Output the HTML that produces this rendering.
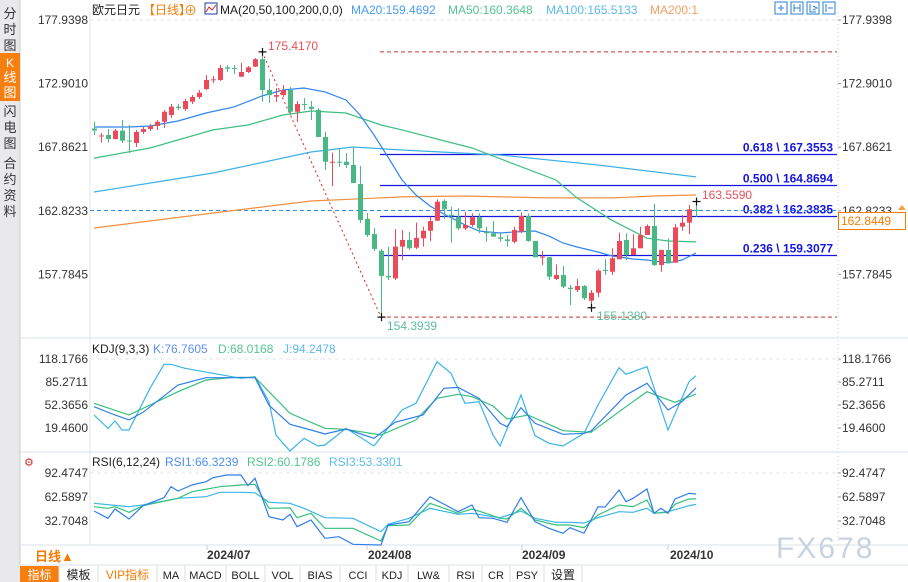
<!DOCTYPE html>
<html><head><meta charset="utf-8">
<style>
html,body{margin:0;padding:0;background:#fff;}
body{width:908px;height:582px;overflow:hidden;position:relative;font-family:"Liberation Sans","Noto Sans CJK SC",sans-serif;}
svg{position:absolute;left:0;top:0;}
text{font-family:"Liberation Sans","Noto Sans CJK SC",sans-serif;}
</style></head>
<body>
<svg id="c" width="908" height="582" viewBox="0 0 908 582">
  <g>
    <rect x="0" y="0" width="20" height="582" fill="#e9e9ec"/>
    <line x1="20" y1="0" x2="20" y2="565" stroke="#ccc"/>
    <g><text x="10" y="18" font-size="13" text-anchor="middle" fill="#333">分</text><text x="10" y="34" font-size="13" text-anchor="middle" fill="#333">时</text><text x="10" y="50" font-size="13" text-anchor="middle" fill="#333">图</text></g>
    <g><rect x="0" y="53" width="20" height="48" fill="#f77f10"/><text x="10" y="67" font-size="12" text-anchor="middle" fill="#fff">K</text><text x="10" y="82" font-size="13" text-anchor="middle" fill="#fff">线</text><text x="10" y="97" font-size="13" text-anchor="middle" fill="#fff">图</text></g>
    <g><text x="10" y="116" font-size="13" text-anchor="middle" fill="#333">闪</text><text x="10" y="132" font-size="13" text-anchor="middle" fill="#333">电</text><text x="10" y="148" font-size="13" text-anchor="middle" fill="#333">图</text></g>
    <g><text x="10" y="168" font-size="13" text-anchor="middle" fill="#333">合</text><text x="10" y="184" font-size="13" text-anchor="middle" fill="#333">约</text><text x="10" y="200" font-size="13" text-anchor="middle" fill="#333">资</text><text x="10" y="216" font-size="13" text-anchor="middle" fill="#333">料</text></g>
  </g>
  <line x1="90" y1="12" x2="90" y2="545" stroke="#e4e4e4"/>
  <line x1="838" y1="12" x2="838" y2="545" stroke="#ccc" stroke-dasharray="1,3"/>
  <line x1="20" y1="338" x2="908" y2="338" stroke="#dde3ea"/>
  <line x1="20" y1="452" x2="908" y2="452" stroke="#dde3ea"/>
  <line x1="20" y1="545" x2="908" y2="545" stroke="#dde3ea"/>
  <line x1="20" y1="565" x2="908" y2="565" stroke="#dde3ea"/>
  <line x1="90" y1="20" x2="838" y2="20" stroke="#e6e6e6" stroke-dasharray="4,3"/>
  <line x1="90" y1="359" x2="838" y2="359" stroke="#e6e6e6" stroke-dasharray="4,3"/>
  <line x1="90" y1="473" x2="838" y2="473" stroke="#e6e6e6" stroke-dasharray="4,3"/>

  <g font-size="12">
    <text x="92" y="14" fill="#222">欧元日元</text>
    <text x="143" y="14" fill="#f57c00">【日线】</text>
    <text x="184" y="15" fill="#f57c00" font-size="13">⊕</text>
    <rect x="205" y="3" width="12" height="11" fill="#fff" stroke="#1a3f9a"/>
    <polyline points="206,12 209,7 212,10 216,5" fill="none" stroke="#d22" stroke-width="1"/>
    <text x="220" y="14" fill="#222">MA(20,50,100,200,0,0)</text>
    <text x="351" y="14" fill="#4a9df5">MA20:159.4692</text>
    <text x="448" y="14" fill="#54c48f">MA50:160.3648</text>
    <text x="546" y="14" fill="#5bbbe8">MA100:165.5133</text>
    <text x="650" y="14" fill="#f5a060">MA200:1</text>
  </g>
  <g fill="none" stroke="#2a7fd0">
    <rect x="775" y="2" width="12" height="12"/><rect x="791" y="2" width="12" height="12"/><rect x="807" y="2" width="12" height="12"/><rect x="823" y="2" width="12" height="12"/>
    <path d="M778 8h6M781 5v6M794 4v8M800 4v8M794 8h6M810 4v8h6M813 6l4 2-4 2M826 4v8M828 8h5"/>
  </g>

  <g id="axes" font-size="12" fill="#333"></g>
  <g id="fib"></g>
  <g id="ma"></g>
  <g id="candles"></g>
  <g id="kdj"></g>
  <g id="rsi"></g>

  <g font-size="12">
    <text x="268" y="50" fill="#e8505b">175.4170</text>
    <text x="387" y="330" fill="#5dbd9a">154.3939</text>
    <text x="597" y="320" fill="#5dbd9a">155.1380</text>
    <text x="702" y="199" fill="#e8505b">163.5590</text>
  </g>

  <g font-size="12">
    <text x="92" y="353" fill="#222">KDJ(9,3,3)</text>
    <text x="153" y="353" fill="#5d8ff0">K:76.7605</text>
    <text x="218" y="353" fill="#54c48f">D:68.0168</text>
    <text x="283" y="353" fill="#5bbbe8">J:94.2478</text>
  </g>
  <g font-size="12">
    <text x="24" y="466" fill="#c33" font-size="11">⚙</text>
    <text x="92" y="466" fill="#222">RSI(6,12,24)</text>
    <text x="165" y="466" fill="#4a8ff0">RSI1:66.3239</text>
    <text x="247" y="466" fill="#54c48f">RSI2:60.1786</text>
    <text x="329" y="466" fill="#5bbbe8">RSI3:53.3301</text>
  </g>

  <g font-size="12" font-weight="bold" fill="#333">
    <line x1="207" y1="545" x2="207" y2="550" stroke="#ccc"/><text x="207" y="559">2024/07</text>
    <line x1="367" y1="545" x2="367" y2="550" stroke="#ccc"/><text x="368" y="559">2024/08</text>
    <line x1="522" y1="545" x2="522" y2="550" stroke="#ccc"/><text x="522" y="559">2024/09</text>
    <line x1="668" y1="545" x2="668" y2="550" stroke="#ccc"/><text x="670" y="559">2024/10</text>
  </g>
  <text x="35" y="561" font-size="13" font-weight="bold" fill="#f57c00">日线▲</text>
  <text x="776" y="558" font-size="30" fill="#c9d3e0" letter-spacing="2">FX678</text>

  <g font-size="12">
    <rect x="20" y="566" width="39" height="16" fill="#f77f10"/>
    <text x="39.5" y="579" text-anchor="middle" fill="#fff">指标</text>
    <g stroke="#ddd"><line x1="59" y1="566" x2="59" y2="582"/><line x1="98" y1="566" x2="98" y2="582"/><line x1="157" y1="566" x2="157" y2="582"/><line x1="185" y1="566" x2="185" y2="582"/><line x1="226" y1="566" x2="226" y2="582"/><line x1="265" y1="566" x2="265" y2="582"/><line x1="300" y1="566" x2="300" y2="582"/><line x1="340" y1="566" x2="340" y2="582"/><line x1="376" y1="566" x2="376" y2="582"/><line x1="408" y1="566" x2="408" y2="582"/><line x1="449" y1="566" x2="449" y2="582"/><line x1="482" y1="566" x2="482" y2="582"/><line x1="510" y1="566" x2="510" y2="582"/><line x1="544" y1="566" x2="544" y2="582"/><line x1="582" y1="566" x2="582" y2="582"/></g>
    <text x="78.5" y="579" text-anchor="middle" fill="#222">模板</text>
    <text x="127.5" y="579" text-anchor="middle" fill="#f57c00">VIP指标</text>
    <g font-family="Liberation Mono" font-size="11" fill="#222">
    <text x="171" y="579" text-anchor="middle">MA</text>
    <text x="205.5" y="579" text-anchor="middle">MACD</text>
    <text x="245.5" y="579" text-anchor="middle">BOLL</text>
    <text x="282.5" y="579" text-anchor="middle">VOL</text>
    <text x="320" y="579" text-anchor="middle">BIAS</text>
    <text x="358" y="579" text-anchor="middle">CCI</text>
    <text x="392" y="579" text-anchor="middle">KDJ</text>
    <text x="428.5" y="579" text-anchor="middle">LW&amp;</text>
    <text x="465.5" y="579" text-anchor="middle">RSI</text>
    <text x="496" y="579" text-anchor="middle">CR</text>
    <text x="527" y="579" text-anchor="middle">PSY</text>
    </g>
    <text x="563" y="579" text-anchor="middle" fill="#222">设置</text>
  </g>

  <g>
    <rect x="838.5" y="212.5" width="67" height="17" fill="#fff" stroke="#f57c00"/>
    <text x="841" y="225" font-size="12" fill="#f57c00">162.8449</text>
    <path d="M898 210l4-5 4 5z" fill="#f5a040"/>
  </g>
</svg>
<script>
const opens  = [169.34,168.71,168.83,168.51,169.17,168.39,168.19,169.07,169.30,169.54,169.88,170.41,171.07,170.89,171.47,171.84,172.47,173.19,173.19,174.19,174.14,173.45,173.82,174.24,174.83,172.39,171.86,171.99,172.39,170.67,171.28,171.07,170.81,168.67,166.63,166.71,166.71,166.45,164.94,162.17,160.98,159.66,157.66,157.47,159.98,160.51,159.90,160.64,161.24,162.04,163.60,162.51,162.35,161.43,161.70,162.31,161.17,161.04,160.72,160.56,160.37,161.17,162.41,160.43,159.14,159.14,157.42,157.73,156.73,156.54,156.86,155.70,156.33,158.13,157.99,158.98,160.51,159.32,159.85,160.90,161.62,158.53,159.72,158.71,161.56,161.88,162.90];
const highs  = [169.90,168.99,169.30,169.30,170.02,169.62,169.22,169.46,169.70,170.02,170.81,171.28,171.28,171.68,172.00,172.39,173.58,173.50,174.37,174.37,174.37,174.53,174.29,174.93,175.417,173.26,172.55,172.79,172.63,171.52,171.76,171.52,170.97,169.09,167.43,167.80,167.40,167.88,166.37,162.65,161.46,159.79,159.95,161.38,161.30,161.16,161.88,161.56,162.35,163.73,163.73,163.15,163.02,162.75,162.62,162.62,161.56,162.01,161.04,160.90,161.56,162.70,162.62,160.43,159.64,159.16,158.58,158.45,156.94,157.42,156.94,156.54,158.19,158.98,159.85,161.09,161.04,160.96,161.56,161.75,163.36,159.72,160.64,161.77,162.49,163.28,163.559];
const lows   = [168.83,168.22,168.22,168.47,168.19,167.40,167.88,168.91,169.14,169.22,169.38,170.18,170.81,170.73,171.28,171.68,172.39,172.95,173.11,173.82,173.66,173.42,173.74,174.22,171.47,171.36,171.44,171.84,170.41,169.86,170.81,170.02,168.67,166.05,164.79,166.29,166.21,165.02,161.85,160.74,159.64,154.3939,157.34,157.34,158.92,159.72,159.79,159.98,160.43,162.01,162.17,160.29,161.30,161.30,161.56,161.04,160.37,160.77,160.37,159.98,160.24,161.06,160.37,159.14,158.53,157.34,157.34,156.68,155.35,156.39,155.75,155.138,155.97,157.73,157.73,158.98,158.92,159.32,159.85,160.90,158.45,157.99,158.66,158.71,161.24,160.98,162.35];
const closes = [169.18,168.79,168.51,169.17,168.38,168.35,169.07,169.30,169.54,169.88,170.67,171.07,170.97,171.52,171.84,172.18,173.19,173.24,174.14,174.08,174.06,173.82,174.19,174.83,172.39,171.99,171.99,172.39,170.67,171.28,171.20,170.89,168.67,166.71,166.71,166.66,166.45,165.02,162.09,160.90,159.80,157.66,157.55,159.98,160.51,159.85,160.67,161.24,162.01,163.54,162.94,162.41,161.43,161.70,162.31,161.43,161.04,160.77,160.61,160.43,161.30,162.41,160.43,159.14,159.19,157.60,157.73,156.81,156.62,156.86,155.89,156.33,158.08,158.05,159.06,160.43,159.32,159.85,160.90,161.62,158.53,159.72,158.66,161.51,161.88,162.94,162.8449];
const ma20Idx  = [0,5,8,12,16,20,24,27,30,33,36,38,40,42,44,46,48,50,53,55,58,60,63,65,67,69,72,74,77,79,82,84,86];
const ma20Val  = [169.46,169.46,169.54,169.94,170.57,171.05,171.92,172.39,172.55,172.24,171.60,170.41,168.83,167.08,165.26,164.07,163.20,162.57,161.70,161.22,161.06,161.14,161.22,160.82,160.27,159.95,159.56,159.24,159.00,158.92,158.69,158.92,159.47];
const ma50Idx  = [0,8,17,22,27,31,36,41,44,54,66,69,74,79,82,86];
const ma50Val  = [167.00,167.80,169.23,169.62,170.41,170.73,170.57,169.62,169.23,167.80,165.26,163.84,162.07,160.65,160.43,160.36];
const ma100Idx = [0,17,31,37,44,58,72,86];
const ma100Val = [164.31,165.82,167.48,167.88,167.64,167.24,166.45,165.51];
const ma200Idx = [0,17,31,44,53,65,74,80,86];
const ma200Val = [161.46,162.65,163.60,163.92,163.99,163.84,163.84,163.99,164.07];
const fibRatios = ["0.618","0.500","0.382","0.236"];
const fibLevels = [167.3553,164.8694,162.3835,159.3077];
const swingHigh = 175.4170, swingLow = 154.3939, swingHighIdx = 24, swingLowIdx = 41;
const lastPrice = 162.8449;
const priceTicks = [177.9398,172.9010,167.8621,162.8233,157.7845];
const kIdx = [0,3,5,7,12,16,23,25,28,31,33,36,40,43,47,50,52,55,58,59,61,63,67,70,71,76,79,82,84,86];
const kVal = [50,38,31,41.9,81,91.4,91.4,52,24.7,16.6,10.9,18,4.7,27.6,38,76.2,77.6,62,26.2,21.3,48.5,26.2,10.5,11.9,15.2,66.7,83.4,45.2,57.1,76.76];
const dIdx = [0,5,12,16,20,23,28,33,36,41,46,49,52,54,57,59,62,67,71,76,79,83,86];
const dVal = [54.8,38.1,71.4,88.1,92,92,40.5,19,17.6,9.5,31,62,67.7,64.2,51,32.4,38,15.6,13.3,50,71.4,56.2,68.02];
const jIdx = [0,2,3,4,5,8,10,11,13,17,21,23,25,26,27,28,30,32,33,36,40,44,46,49,51,53,55,57,58,61,63,65,67,70,72,75,76,79,82,85,86];
const jVal = [38,19,29.5,16.6,16.6,76.2,110.6,110.6,104.9,97.7,90.6,92.9,57.1,9.5,-2.4,-13.4,4.7,-6.3,-4.8,19,-6.3,45.2,54.8,114.3,97.7,54.8,57.1,9.5,-6.3,66.7,8.5,-2.4,-6.3,11.9,52.4,105.7,96.3,107.2,16.6,85.7,94.25];
const kdjTicks = [118.1766,85.2711,52.3656,19.4600];
const r1Idx = [0,2,3,5,7,10,11,12,14,16,17,19,21,22,23,25,27,28,29,31,33,35,37,41,42,45,48,52,54,55,57,59,61,63,65,67,68,70,72,73,75,76,77,79,80,81,82,83,85,86];
const r1Val = [45.2,36.1,47.6,35.2,51.8,61.7,75.4,70.1,77.5,81.6,86.6,90,90,76.7,85.9,38.1,34,41.1,25.6,34,11.2,13.2,3.7,2.8,27.7,31.8,63,44.3,52.6,36.8,36.1,31.1,61.7,31.8,23.6,17.4,24.4,17.4,50.5,50,71.3,56.7,61,72.5,42.3,48.5,42.3,60.1,67.2,66.32];
const r2Idx = [0,2,3,5,7,12,14,18,21,23,25,28,29,31,33,37,41,42,45,48,52,54,56,58,59,61,63,66,68,70,72,75,77,79,80,82,83,85,86];
const r2Val = [50.5,48.5,50.5,43.5,51.8,61,69.2,75.4,77.5,78.4,48.5,49,36.8,42.3,23.6,23.6,7.8,26.9,27.7,54.7,42.3,47.6,42.3,36.1,35.2,48.5,34,27.7,27.7,24.4,40.2,52.6,50.5,58.9,42.3,43.5,53.5,60.1,60.18];
const r3Idx = [0,5,7,12,16,18,21,23,25,28,30,33,37,41,42,45,48,52,54,58,61,63,66,68,70,72,75,77,79,80,82,85,86];
const r3Val = [54.7,50.5,52.6,61,63,68.4,68.4,67.8,56,54.7,48.5,36.8,36.1,19.4,28.6,36.1,48.5,41.1,42.3,36.8,45.2,36.1,31.1,31.1,30.2,36.8,44.3,43.5,48.5,42.3,44.3,51.8,53.33];
const rsiTicks = [92.4747,62.5897,32.7048];

const NS = "http://www.w3.org/2000/svg";
function mk(tag, attrs, parent){ const e=document.createElementNS(NS,tag); for(const k in attrs) e.setAttribute(k,attrs[k]); parent.appendChild(e); return e; }
const xOf = i => 94 + 7*i;
const yP = p => 20 + (177.9398 - p) * 12.62;
const yK = v => 359 + (118.1766 - v) * 23/32.9055;
const yR = v => 473 + (92.4747 - v) * 24/29.8849;

const axes = document.getElementById('axes');
function axisLabel(v, y){
  let t = mk('text',{x:842,y:y+4,'font-size':12,fill:'#333'},axes); t.textContent=v.toFixed(4);
   
  let t2 = mk('text',{x:88,y:y+4,'font-size':12,fill:'#333','text-anchor':'end'},axes); t2.textContent=v.toFixed(4);
   
  mk('line',{x1:838,y1:y,x2:841,y2:y,stroke:'#999'},axes);
}
priceTicks.forEach(v=>axisLabel(v,yP(v)));
kdjTicks.forEach(v=>axisLabel(v,yK(v)));
rsiTicks.forEach(v=>axisLabel(v,yR(v)));

const fib = document.getElementById('fib');
const fx0 = xOf(swingLowIdx)-1;
let l;
l = mk('line',{x1:fx0,y1:yP(swingHigh),x2:837,y2:yP(swingHigh),stroke:'#c0392b','stroke-dasharray':'4,3'},fib);
 
l = mk('line',{x1:fx0,y1:yP(swingLow),x2:837,y2:yP(swingLow),stroke:'#c0392b','stroke-dasharray':'4,3'},fib);
 
l = mk('line',{x1:xOf(swingHighIdx),y1:yP(swingHigh),x2:xOf(swingLowIdx),y2:yP(swingLow),stroke:'#e02020','stroke-dasharray':'2,3'},fib);
 
fibLevels.forEach((v,k)=>{
  const y = Math.round(yP(v))+0.5;
  const ln = mk('line',{x1:fx0,y1:y,x2:837,y2:y,stroke:'#1515e0','stroke-width':1.3},fib);
   
  const t = mk('text',{x:833,y:y-3,'text-anchor':'end','font-size':12,'font-weight':'bold',fill:'#1515e0'},fib);
  t.textContent = fibRatios[k]+' \\ '+v.toFixed(4);
   
});
l = mk('line',{x1:90,y1:yP(lastPrice),x2:837,y2:yP(lastPrice),stroke:'#2a8cf0','stroke-dasharray':'4,3'},fib);
 

function series(parent, idx, vals, yf, color, name){
  const pts = idx.map((i,k)=>xOf(i).toFixed(1)+','+yf(vals[k]).toFixed(1)).join(' ');
  const p = mk('polyline',{points:pts,fill:'none',stroke:color,'stroke-width':1.2},parent);
  
  
}
const ma = document.getElementById('ma');
series(ma, ma200Idx, ma200Val, yP, '#f39040', 'ma200-line');
series(ma, ma100Idx, ma100Val, yP, '#3cb0e6', 'ma100-line');
series(ma, ma50Idx, ma50Val, yP, '#3dbf80', 'ma50-line');
series(ma, ma20Idx, ma20Val, yP, '#2f86ee', 'ma20-line');

const cg = document.getElementById('candles');
opens.forEach((o,i)=>{
  const c = closes[i], up = c >= o, col = up ? '#ea4a5a' : '#4ab884';
  const x = xOf(i);
  const g = mk('g',{},cg);
  
  
  mk('line',{x1:x+0.5,y1:yP(highs[i]),x2:x+0.5,y2:yP(lows[i]),stroke:col},g);
  const yt = yP(Math.max(o,c)), yb = yP(Math.min(o,c));
  mk('rect',{x:x-2,y:yt,width:5,height:Math.max(1,yb-yt),fill:col},g);
});
[[swingHighIdx,swingHigh],[swingLowIdx,swingLow],[71,155.138],[86,163.559]].forEach(([i,p])=>{
  const x=xOf(i)+0.5,y=yP(p);
  const m = mk('path',{d:`M${x-4} ${y}h8M${x} ${y-4}v8`,stroke:'#111','stroke-width':1.2},cg);
   
});

const kg = document.getElementById('kdj');
series(kg, jIdx, jVal, yK, '#3ab4e8', 'kdj-j-line');
series(kg, dIdx, dVal, yK, '#35c07a', 'kdj-d-line');
series(kg, kIdx, kVal, yK, '#2f7fea', 'kdj-k-line');
const rg = document.getElementById('rsi');
series(rg, r3Idx, r3Val, yR, '#3ab4e8', 'rsi3-line');
series(rg, r2Idx, r2Val, yR, '#35c07a', 'rsi2-line');
series(rg, r1Idx, r1Val, yR, '#2f7fea', 'rsi1-line');
</script>
</body></html>
